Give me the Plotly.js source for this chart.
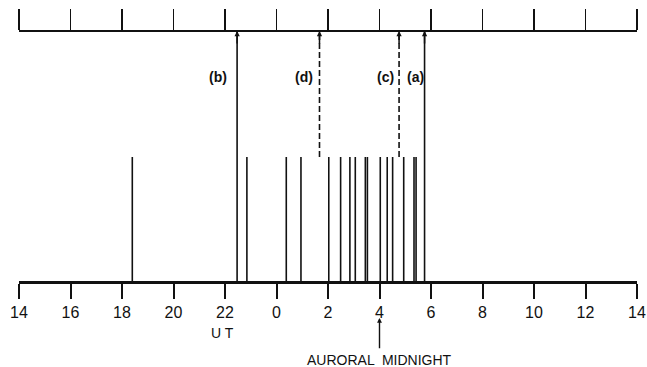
<!DOCTYPE html>
<html>
<head>
<meta charset="utf-8">
<script src="https://cdn.plot.ly/plotly-3.0.1.min.js"></script>
<style>html,body{margin:0;padding:0;background:#fff;}#chart{width:647px;height:367px;}</style>
</head>
<body>
<div id="chart"></div>
<script>
// UT hours of observed events (short lines)
const eventHours = [18.4, 22.85, 0.38, 0.95, 2.03, 2.49, 2.85, 3.06, 3.45, 3.53, 4.03, 4.30, 4.51, 4.94, 5.34, 5.42];
// Labelled events reaching the upper line
const labelNames = ['(a)', '(b)', '(c)', '(d)'];
const labelHours = [5.75, 22.47, 4.76, 1.67];
const labelDashed = [false, false, true, true];
// Axis ticks
const tickHours = [14, 16, 18, 20, 22, 0, 2, 4, 6, 8, 10, 12, 14];
const tickLabels = ['14', '16', '18', '20', '22', '0', '2', '4', '6', '8', '10', '12', '14'];
const auroralMidnight = 4;

// map UT hour to continuous axis coordinate (14 .. 38)
const toAxis = h => (h < 14 ? h + 24 : h);
const tickVals = tickHours.map((h, i) => (i === tickHours.length - 1 ? 38 : toAxis(h)));

const SHORT = 0.498;   // height of short event lines
const TOP = 1;         // upper line level
const black = '#111';

const traces = [];
// short event lines
const ex = [], ey = [];
eventHours.forEach(h => { const x = toAxis(h); ex.push(x, x, null); ey.push(0, SHORT, null); });
traces.push({x: ex, y: ey, mode: 'lines', line: {color: black, width: 1.6}, hoverinfo: 'skip', xaxis: 'x', yaxis: 'y'});
// labelled lines
const sx = [], sy = [], dx = [], dy = [];
labelHours.forEach((h, i) => {
  const x = toAxis(h);
  if (labelDashed[i]) { dx.push(x, x, null); dy.push(SHORT, TOP, null); }
  else { sx.push(x, x, null); sy.push(0, TOP, null); }
});
traces.push({x: sx, y: sy, mode: 'lines', line: {color: black, width: 1.6}, hoverinfo: 'skip', xaxis: 'x', yaxis: 'y'});
traces.push({x: dx, y: dy, mode: 'lines', line: {color: black, width: 1.6, dash: '6px,3px'}, hoverinfo: 'skip', xaxis: 'x', yaxis: 'y'});
// dummy trace to activate the top axis
traces.push({x: [14, 38], y: [0, 0], mode: 'lines', line: {width: 0}, opacity: 0, hoverinfo: 'skip', xaxis: 'x2', yaxis: 'y', showlegend: false});

const font = {family: 'Liberation Sans, Arial, sans-serif', color: black};
const labelShift = [-9, -19, -14, -16];
const annotations = [];
labelHours.forEach((h, i) => {
  const x = toAxis(h);
  annotations.push({x: x, y: 0.818, xref: 'x', yref: 'y', text: '<b>' + labelNames[i] + '</b>', showarrow: false,
    xshift: labelShift[i], font: Object.assign({size: 14}, font)});
  annotations.push({x: x, y: TOP, xref: 'x', yref: 'y', ax: 0, ay: 14, text: '', showarrow: true,
    arrowhead: 2, arrowsize: 0.7, arrowwidth: 1.5, arrowcolor: black});
});
annotations.push({x: 21.9, y: -0.203, xref: 'x', yref: 'y', text: 'U T', showarrow: false, font: Object.assign({size: 14}, font)});
annotations.push({x: toAxis(auroralMidnight), y: -0.31, xref: 'x', yref: 'y', text: 'AURORAL  MIDNIGHT', showarrow: false, font: Object.assign({size: 14}, font)});
annotations.push({x: toAxis(auroralMidnight), y: -0.143, xref: 'x', yref: 'y', ax: toAxis(auroralMidnight), ay: -0.27,
  axref: 'x', ayref: 'y', text: '', showarrow: true, arrowhead: 2, arrowsize: 0.7, arrowwidth: 1.4, arrowcolor: black});

const layout = {
  width: 647, height: 367,
  margin: {l: 19, r: 10, t: 0, b: 0},
  paper_bgcolor: '#fff', plot_bgcolor: '#fff',
  showlegend: false,
  xaxis: {range: [14, 38], tickmode: 'array', tickvals: tickVals, ticktext: tickLabels,
    anchor: 'free', position: 0.2316, side: 'bottom', showgrid: false, zeroline: false,
    showline: true, linecolor: black, linewidth: 2.5, ticks: 'outside', ticklen: 15, tickwidth: 2, tickcolor: black,
    tickfont: Object.assign({size: 16}, font)},
  xaxis2: {range: [14, 38], tickmode: 'array', tickvals: tickVals, overlaying: 'x', anchor: 'free', position: 0.9155,
    side: 'top', showgrid: false, zeroline: false, showticklabels: false,
    showline: true, linecolor: black, linewidth: 2, ticks: 'outside', ticklen: 21, tickwidth: 1.6, tickcolor: black},
  yaxis: {range: [-0.3386, 1.1235], visible: false, showgrid: false, zeroline: false, fixedrange: true},
  annotations: annotations
};

Plotly.newPlot('chart', traces, layout, {displayModeBar: false, staticPlot: true});
</script>
</body>
</html>
